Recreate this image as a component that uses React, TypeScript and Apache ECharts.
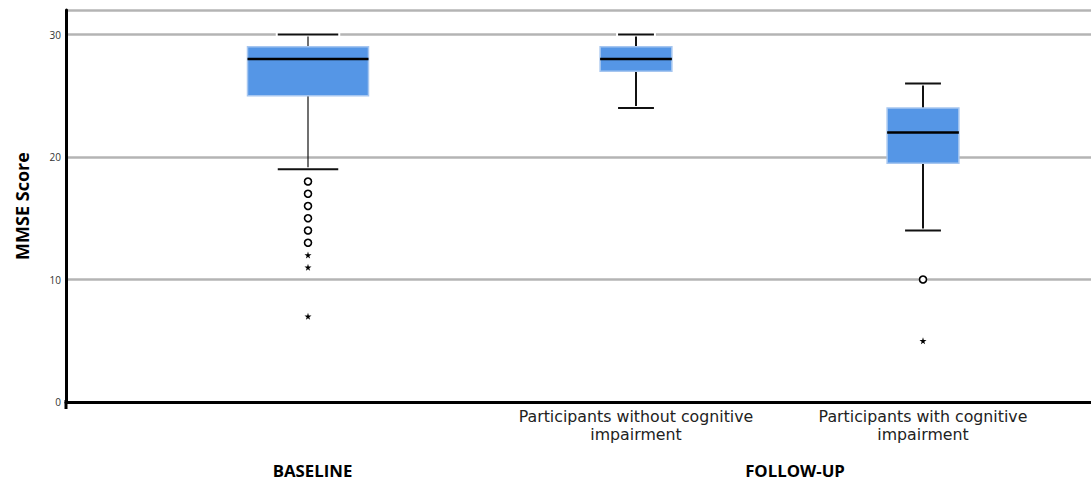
import React, { useEffect, useRef } from "react";
import * as echarts from "echarts";

// ---- data ----
const baselineCategories = ["Baseline"];
const followUpCategories = [
  "Participants without cognitive\nimpairment",
  "Participants with cognitive\nimpairment",
];
// box stats: [baseline, follow-up without CI, follow-up with CI]
const lowerWhisker = [19, 24, 14];
const q1 = [25, 27, 19.5];
const median = [28, 28, 22];
const q3 = [29, 29, 24];
const upperWhisker = [30, 30, 26];

const baselineCircleOutliers = [18, 17, 16, 15, 14, 13];
const baselineStarOutliers = [12, 11, 7];
const followCircleOutliers = [10]; // with cognitive impairment
const followStarOutliers = [5]; // with cognitive impairment

const yTicks = [0, 10, 20, 30];

const STAR =
  "path://M50,0 L61,35 L98,35 L68,57 L79,91 L50,70 L21,91 L32,57 L2,35 L39,35 Z";

function boxRenderer(whiskerWidth: number) {
  return (params: any, api: any) => {
    const idx = api.value(0);
    const lo = api.coord([idx, api.value(1)]);
    const b1 = api.coord([idx, api.value(2)]);
    const md = api.coord([idx, api.value(3)]);
    const b3 = api.coord([idx, api.value(4)]);
    const hi = api.coord([idx, api.value(5)]);
    const band = api.size([1, 0])[0];
    const bw = band * 0.25;
    const cw = band * 0.125;
    const x = lo[0];
    const black = { stroke: "#111", lineWidth: whiskerWidth };
    return {
      type: "group",
      children: [
        { type: "line", shape: { x1: x, y1: hi[1], x2: x, y2: b3[1] }, style: black },
        { type: "line", shape: { x1: x, y1: b1[1], x2: x, y2: lo[1] }, style: black },
        { type: "line", shape: { x1: x - cw / 2 - 2, y1: hi[1], x2: x + cw / 2 + 2, y2: hi[1] }, style: { stroke: "#fff", lineWidth: 4 } },
        { type: "line", shape: { x1: x - cw / 2 - 2, y1: lo[1], x2: x + cw / 2 + 2, y2: lo[1] }, style: { stroke: "#fff", lineWidth: 4 } },
        { type: "line", shape: { x1: x - cw / 2, y1: hi[1], x2: x + cw / 2, y2: hi[1] }, style: { stroke: "#111", lineWidth: 1.8 } },
        { type: "line", shape: { x1: x - cw / 2, y1: lo[1], x2: x + cw / 2, y2: lo[1] }, style: { stroke: "#111", lineWidth: 1.8 } },
        {
          type: "rect",
          shape: { x: x - bw / 2, y: b3[1], width: bw, height: b1[1] - b3[1] },
          style: { fill: "#5596e6", stroke: "#a6c6f0", lineWidth: 1.5 },
        },
        { type: "line", shape: { x1: x - bw / 2, y1: md[1], x2: x + bw / 2, y2: md[1] }, style: { stroke: "#000", lineWidth: 2.5 } },
      ],
    };
  };
}

export default function App() {
  const ref = useRef<HTMLDivElement>(null);
  useEffect(() => {
    if (!ref.current) return;
    const chart = echarts.init(ref.current, null, { renderer: "svg" });
    const font = "'Open Sans', 'DejaVu Sans', sans-serif";
    const labelFont = "'DejaVu Sans', sans-serif";
    const boxData = (ids: number[]) =>
      ids.map((g, i) => [i, lowerWhisker[g], q1[g], median[g], q3[g], upperWhisker[g]]);

    chart.setOption({
      animation: false,
      textStyle: { fontFamily: font },
      graphic: [
        {
          type: "line",
          shape: { x1: 66, y1: 400, x2: 66, y2: 409 },
          style: { stroke: "#000", lineWidth: 3 },
          z: 10,
        },
      ],
      grid: [
        { left: 66, right: 0, top: 10, bottom: 82 },
        { left: 66, width: 484, top: 10, bottom: 82 },
        { left: 492.5, width: 574, top: 10, bottom: 82 },
      ],
      xAxis: [
        {
          gridIndex: 0,
          type: "value",
          min: 0,
          max: 1,
          axisLine: { show: true, lineStyle: { color: "#000", width: 3 } },
          axisTick: { show: false },
          axisLabel: { show: false },
          splitLine: { show: false },
        },
        {
          gridIndex: 1,
          type: "category",
          data: baselineCategories,
          axisLine: { show: false },
          axisTick: { show: false },
          axisLabel: { show: false },
          name: "BASELINE",
          nameLocation: "middle",
          nameGap: 60,
          nameTextStyle: { fontSize: 16.8, fontWeight: "bold", color: "#000", fontFamily: font, padding: [0, 0, 0, 9] },
        },
        {
          gridIndex: 2,
          type: "category",
          data: followUpCategories,
          axisLine: { show: false },
          axisTick: { show: false },
          axisLabel: {
            show: true,
            interval: 0,
            hideOverlap: false,
            fontSize: 15.8,
            color: "#222",
            lineHeight: 18.6,
            margin: 5,
            fontFamily: labelFont,
          },
          name: "FOLLOW-UP",
          nameLocation: "middle",
          nameGap: 60,
          nameTextStyle: { fontSize: 16.8, fontWeight: "bold", color: "#000", fontFamily: font, padding: [0, 0, 0, 31] },
        },
      ],
      yAxis: [
        {
          gridIndex: 0,
          type: "value",
          min: 0,
          max: 32,
          interval: 10,
          axisLine: { show: true, lineStyle: { color: "#000", width: 3 } },
          axisTick: { show: false },
          axisLabel: {
            fontSize: 10,
            color: "#333",
            margin: 5,
            formatter: (v: number) => (yTicks.includes(v) ? String(v) : ""),
          },
          splitLine: { show: true, lineStyle: { color: "#b4b4b4", width: 2.5 } },
          name: "MMSE Score",
          nameLocation: "middle",
          nameGap: 35,
          nameTextStyle: { fontSize: 18, fontWeight: "bold", color: "#000", fontFamily: font },
        },
        { gridIndex: 1, type: "value", min: 0, max: 32, show: false },
        { gridIndex: 2, type: "value", min: 0, max: 32, show: false },
      ],
      series: [
        {
          type: "custom",
          xAxisIndex: 1,
          yAxisIndex: 1,
          renderItem: boxRenderer(1.2),
          encode: { x: 0, y: [1, 2, 3, 4, 5] },
          data: boxData([0]),
          z: 3,
        },
        {
          type: "custom",
          xAxisIndex: 2,
          yAxisIndex: 2,
          renderItem: boxRenderer(2),
          encode: { x: 0, y: [1, 2, 3, 4, 5] },
          data: boxData([1, 2]),
          z: 3,
        },
        {
          type: "scatter",
          xAxisIndex: 1,
          yAxisIndex: 1,
          symbol: "circle",
          symbolSize: 7,
          itemStyle: { color: "#fff", borderColor: "#000", borderWidth: 1.6, opacity: 1 },
          data: baselineCircleOutliers.map((v) => [0, v]),
          z: 4,
        },
        {
          type: "scatter",
          xAxisIndex: 1,
          yAxisIndex: 1,
          symbol: STAR,
          symbolSize: 7,
          itemStyle: { color: "#000", opacity: 1 },
          data: baselineStarOutliers.map((v) => [0, v]),
          z: 4,
        },
        {
          type: "scatter",
          xAxisIndex: 2,
          yAxisIndex: 2,
          symbol: "circle",
          symbolSize: 7,
          itemStyle: { color: "#fff", borderColor: "#000", borderWidth: 1.6, opacity: 1 },
          data: followCircleOutliers.map((v) => [1, v]),
          z: 4,
        },
        {
          type: "scatter",
          xAxisIndex: 2,
          yAxisIndex: 2,
          symbol: STAR,
          symbolSize: 7,
          itemStyle: { color: "#000", opacity: 1 },
          data: followStarOutliers.map((v) => [1, v]),
          z: 4,
        },
      ],
    });
    return () => chart.dispose();
  }, []);
  return <div ref={ref} style={{ width: 1091, height: 484, position: "absolute", left: 0, top: 0 }} />;
}
